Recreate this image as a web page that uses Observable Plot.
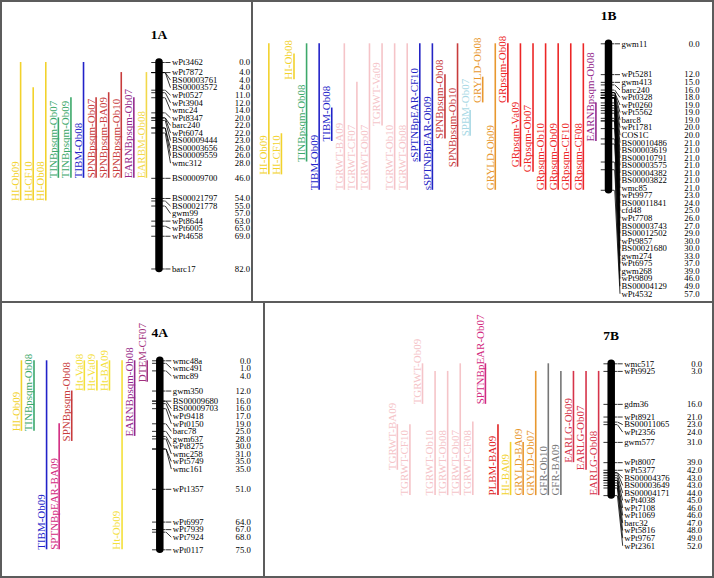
<!DOCTYPE html>
<html><head><meta charset="utf-8">
<script src="https://cdn.jsdelivr.net/npm/d3@7"></script>
<script src="https://cdn.jsdelivr.net/npm/@observablehq/plot@0.6"></script>
<style>
body{margin:0;background:#fff;}
#fig{position:relative;width:714px;height:578px;background:#fff;overflow:hidden;}
.panel{position:absolute;}
.ln{position:absolute;background:#5c5c5c;}
</style></head><body><div id="fig"></div>
<script>
// ---------------- data ----------------
// Chromosome 1A
const markers1A = ["wPt3462","wPt7872","BS00003761","BS00003572","wPt0527","wPt3904","wmc24","wPt8347","barc240","wPt6074","BS00009444","BS00003656","BS00009559","wmc312","BS00009700","BS00021797","BS00021778","gwm99","wPt8644","wPt6005","wPt4658","barc17"];
const cM1A = [0,4,4,4,11,12,14,20,22,22,23,26,26,28,46,54,55,57,63,65,69,82];
const qtl1A = ["HI-Ob09","HI-CF10","HI-Ob08","TINBpsqm-Ob07","TINBpsqm-Ob09","TIBM-Ob08","SPNBpsqm-Ob07","SPNBpsqm-BA09","SPNBpsqm-Ob10","EARNBpsqm-Ob07","EARBM-Ob08"];
const qStart1A = [0,10,0,22,14,0,14,12,4,14,4];
const qEnd1A   = [55,55,55,46,46,46,46,46,46,46,46];

// Chromosome 1B
const markers1B = ["gwm11","wPt5281","gwm413","barc240","wPt0328","wPt0260","wPt5562","barc8","wPt1781","COS1C","BS00010486","BS00003619","BS00010791","BS00003575","BS00004382","BS00003822","wmc85","wPt9977","BS00011841","cfd48","wPt7708","BS00003743","BS00012502","wPt9857","BS00021680","gwm274","wPt6975","gwm268","wPt9809","BS00004129","wPt4532"];
const cM1B = [0,12,15,16,18,19,19,19,20,20,21,21,21,21,21,21,21,23,24,25,26,27,29,30,30,33,37,39,46,49,57];
const qtl1B = ["HI-Ob09","HI-CF10","HI-Ob08","TINBpsqm-Ob08","TIBM-Ob09","TIBM-Ob08","TGRWT-BA09","TGRWT-CF07","TGRWT-Ob07","TGRWT-Va09","TGRWT-Ob10","TGRWT-Ob08","sSPTNBpEAR-CF10","sSPTNBpEAR-Ob09","SPNBpsqm-Ob08","SPNBpsqm-Ob10","SPBM-Ob07","GRYLD-Ob08","GRYLD-Ob09","GRpsqm-Ob08","GRpsqm-Va09","GRpsqm-Ob07","GRpsqm-Ob10","GRpsqm-Ob09","GRpsqm-CF10","GRpsqm-CF08","EARNBpsqm-Ob08"];
const qStart1B = [0,35,4,0,0,25,0,15,0,0,0,0,0,0,12,0,26,13,0,0,0,0,0,0,0,0,23];
const qEnd1B   = [51,51,14,46,57,38,57,57,57,32,57,57,46,57,37,48,36,23,57,23,48,50,57,57,57,57,38];

// Chromosome 4A
const markers4A = ["wmc48a","wmc491","wmc89","gwm350","BS00009680","BS00009703","wPt9418","wPt0150","barc78","gwm637","wPt8275","wmc258","wPt5749","wmc161","wPt1357","wPt6997","wPt7939","wPt7924","wPt0117"];
const cM4A = [0,1,4,12,16,16,17,19,25,28,30,31,35,35,51,64,67,68,75];
const qtl4A = ["HI-Ob09","TINBpsqm-Ob08","TIBM-Ob09","SPTNBpEAR-BA09","SPNBpsqm-Ob08","Ht-Va08","Ht-Va09","Ht-BA09","Ht-Ob09","EARNBpsqm-Ob08","DTEM-CF07"];
const qStart4A = [0,0,0,25,12,0,0,0,0,0,0];
const qEnd4A   = [28,28,75,75,32,12,12,12,75,30,8.5];

// Chromosome 7B
const markers7B = ["wmc517","wPt9925","gdm36","wPt8921","BS00011065","wPt2356","gwm577","wPt8007","wPt5377","BS00004376","BS00003649","BS00004171","wPt4038","wPt7108","wPt1069","barc32","wPt5816","wPt9767","wPt2361"];
const cM7B = [0,3,16,21,23,24,31,39,42,43,43,44,45,46,46,47,48,49,52];
const qtl7B = ["TGRWT-BA09","TGRWT-CF10","TGRWT-Ob09","TGRWT-Ob10","TGRWT-Ob08","TGRWT-Ob07","TGRWT-CF08","SPTNBpEAR-Ob07","PLBM-BA09","HI-BA09","GRYLD-BA09","GRYLD-Ob07","GFR-Ob10","GFR-BA09","EARLG-Ob09","EARLG-Ob07","EARLG-Ob08"];
const qStart7B = [24,24,0,3,3,0,23,0,24,31,31,3,0,3,3,3,3];
const qEnd7B   = [42,52,16,52,52,52,52,16,52,52,52,52,52,52,39,42,52];

// ---------------- styles ----------------
const traitColor = {
  "HI":"#f2d22c", "Ht":"#f4e03a", "EARBM":"#f2d84a",
  "TINBpsqm":"#3da86a", "TIBM":"#2222c8", "sSPTNBpEAR":"#2424c4",
  "SPNBpsqm":"#c83c3c", "EARNBpsqm":"#962a8c", "DTEM":"#a2307c",
  "TGRWT":"#f5c4c8", "SPBM":"#a8d8e4", "GRYLD":"#e8982e",
  "GRpsqm":"#ec2626", "SPTNBpEAR":"#d22a80", "PLBM":"#e02222",
  "GFR":"#767676", "EARLG":"#d6344a"
};
const FONT = "'Liberation Serif','Times New Roman',Times,serif";
const STEP = 12.58;       // px between QTL columns
const LABEL_SP = 7.55;    // px between marker labels

function panel(cfg) {
  const {title, markers, cm, qtl, qs, qe, left, top, width, height, chromX, y0, k} = cfg;
  const n = qtl.length;
  const maxcM = d3.max(cm);
  const px = d => d / STEP;           // pixel offset -> column units
  const sp = LABEL_SP / k;            // label spacing in cM units
  const lab = [];
  cm.forEach((p, i) => lab.push(i === 0 ? p : Math.max(p, lab[i - 1] + sp)));
  const M = markers.map((m, i) => ({name: m, cm: cm[i], ly: lab[i]}));
  const Q = qtl.map((q, i) => ({name: q, col: i, s: qs[i], e: qe[i], color: traitColor[q.split("-")[0]]}));
  const c = n; // chromosome column
  const half = 3.75;
  const svg = Plot.plot({
    width, height,
    marginTop: 0, marginBottom: 0, marginLeft: 0, marginRight: 0,
    x: {type: "linear", domain: [0, n], range: [chromX - n * STEP, chromX], axis: null},
    y: {type: "linear", domain: [0, maxcM], range: [y0, y0 + maxcM * k], axis: null},
    color: {type: "identity"},
    style: {fontFamily: FONT, background: "transparent", overflow: "visible"},
    marks: [
      Plot.ruleX(Q, {x: "col", y1: "s", y2: "e", stroke: "color", strokeWidth: 1.6}),
      Plot.text(Q, {x: "col", y: "e", text: "name", fill: "color", rotate: -90,
                    textAnchor: "start", lineAnchor: "bottom", dx: -1.6, fontSize: 11}),
      Plot.ruleY(M, {y: "cm", x1: c - px(half + 3.5), x2: c + px(half + 2.5), stroke: "black", strokeWidth: 0.8}),
      Plot.link(M, {x1: c + px(half + 2.5), y1: "cm", x2: c + px(11.5), y2: "ly", stroke: "black", strokeWidth: 0.8}),
      Plot.ruleX([title], {x: c, y1: 0, y2: maxcM, stroke: "black", strokeWidth: 7.5, strokeLinecap: "round"}),
      Plot.text(M, {x: c, y: "ly", text: "name", dx: 13, textAnchor: "start", fontSize: 8.7, fill: "black"}),
      Plot.text(M, {x: c, y: "ly", text: d => d.cm.toFixed(1), dx: 91, textAnchor: "end", fontSize: 8.7, fill: "black"}),
      Plot.text([title], {x: c, y: 0, text: d => d, dy: -24, lineAnchor: "bottom",
                          fontWeight: "bold", fontSize: 13.5, fill: "black"})
    ]
  });
  const wrap = document.createElement("div");
  wrap.className = "panel";
  wrap.style.left = left + "px";
  wrap.style.top = top + "px";
  wrap.appendChild(svg);
  document.getElementById("fig").appendChild(wrap);
}

panel({title: "1A", markers: markers1A, cm: cM1A, qtl: qtl1A, qs: qStart1A, qe: qEnd1A,
       left: 0, top: 0, width: 252, height: 302, chromX: 158.5, y0: 62, k: 2.518});
panel({title: "1B", markers: markers1B, cm: cM1B, qtl: qtl1B, qs: qStart1B, qe: qEnd1B,
       left: 252, top: 0, width: 462, height: 302, chromX: 356, y0: 43.3, k: 2.57});
panel({title: "4A", markers: markers4A, cm: cM4A, qtl: qtl4A, qs: qStart4A, qe: qEnd4A,
       left: 0, top: 302, width: 264, height: 276, chromX: 159.3, y0: 58.3, k: 2.52});
panel({title: "7B", markers: markers7B, cm: cM7B, qtl: qtl7B, qs: qStart7B, qe: qEnd7B,
       left: 264, top: 302, width: 450, height: 276, chromX: 346.7, y0: 61.3, k: 2.535});

// panel frame lines
const fig = document.getElementById("fig");
function ln(l, t, w, h) {
  const d = document.createElement("div");
  d.className = "ln";
  Object.assign(d.style, {left: l + "px", top: t + "px", width: w + "px", height: h + "px"});
  fig.appendChild(d);
}
ln(0, 0, 714, 1.5); ln(0, 576, 714, 2); ln(0, 0, 1.5, 578); ln(711.5, 0, 2.5, 578);
ln(251.3, 0, 2, 302); ln(0, 301, 714, 2); ln(263.3, 302, 2, 276);
</script></body></html>
